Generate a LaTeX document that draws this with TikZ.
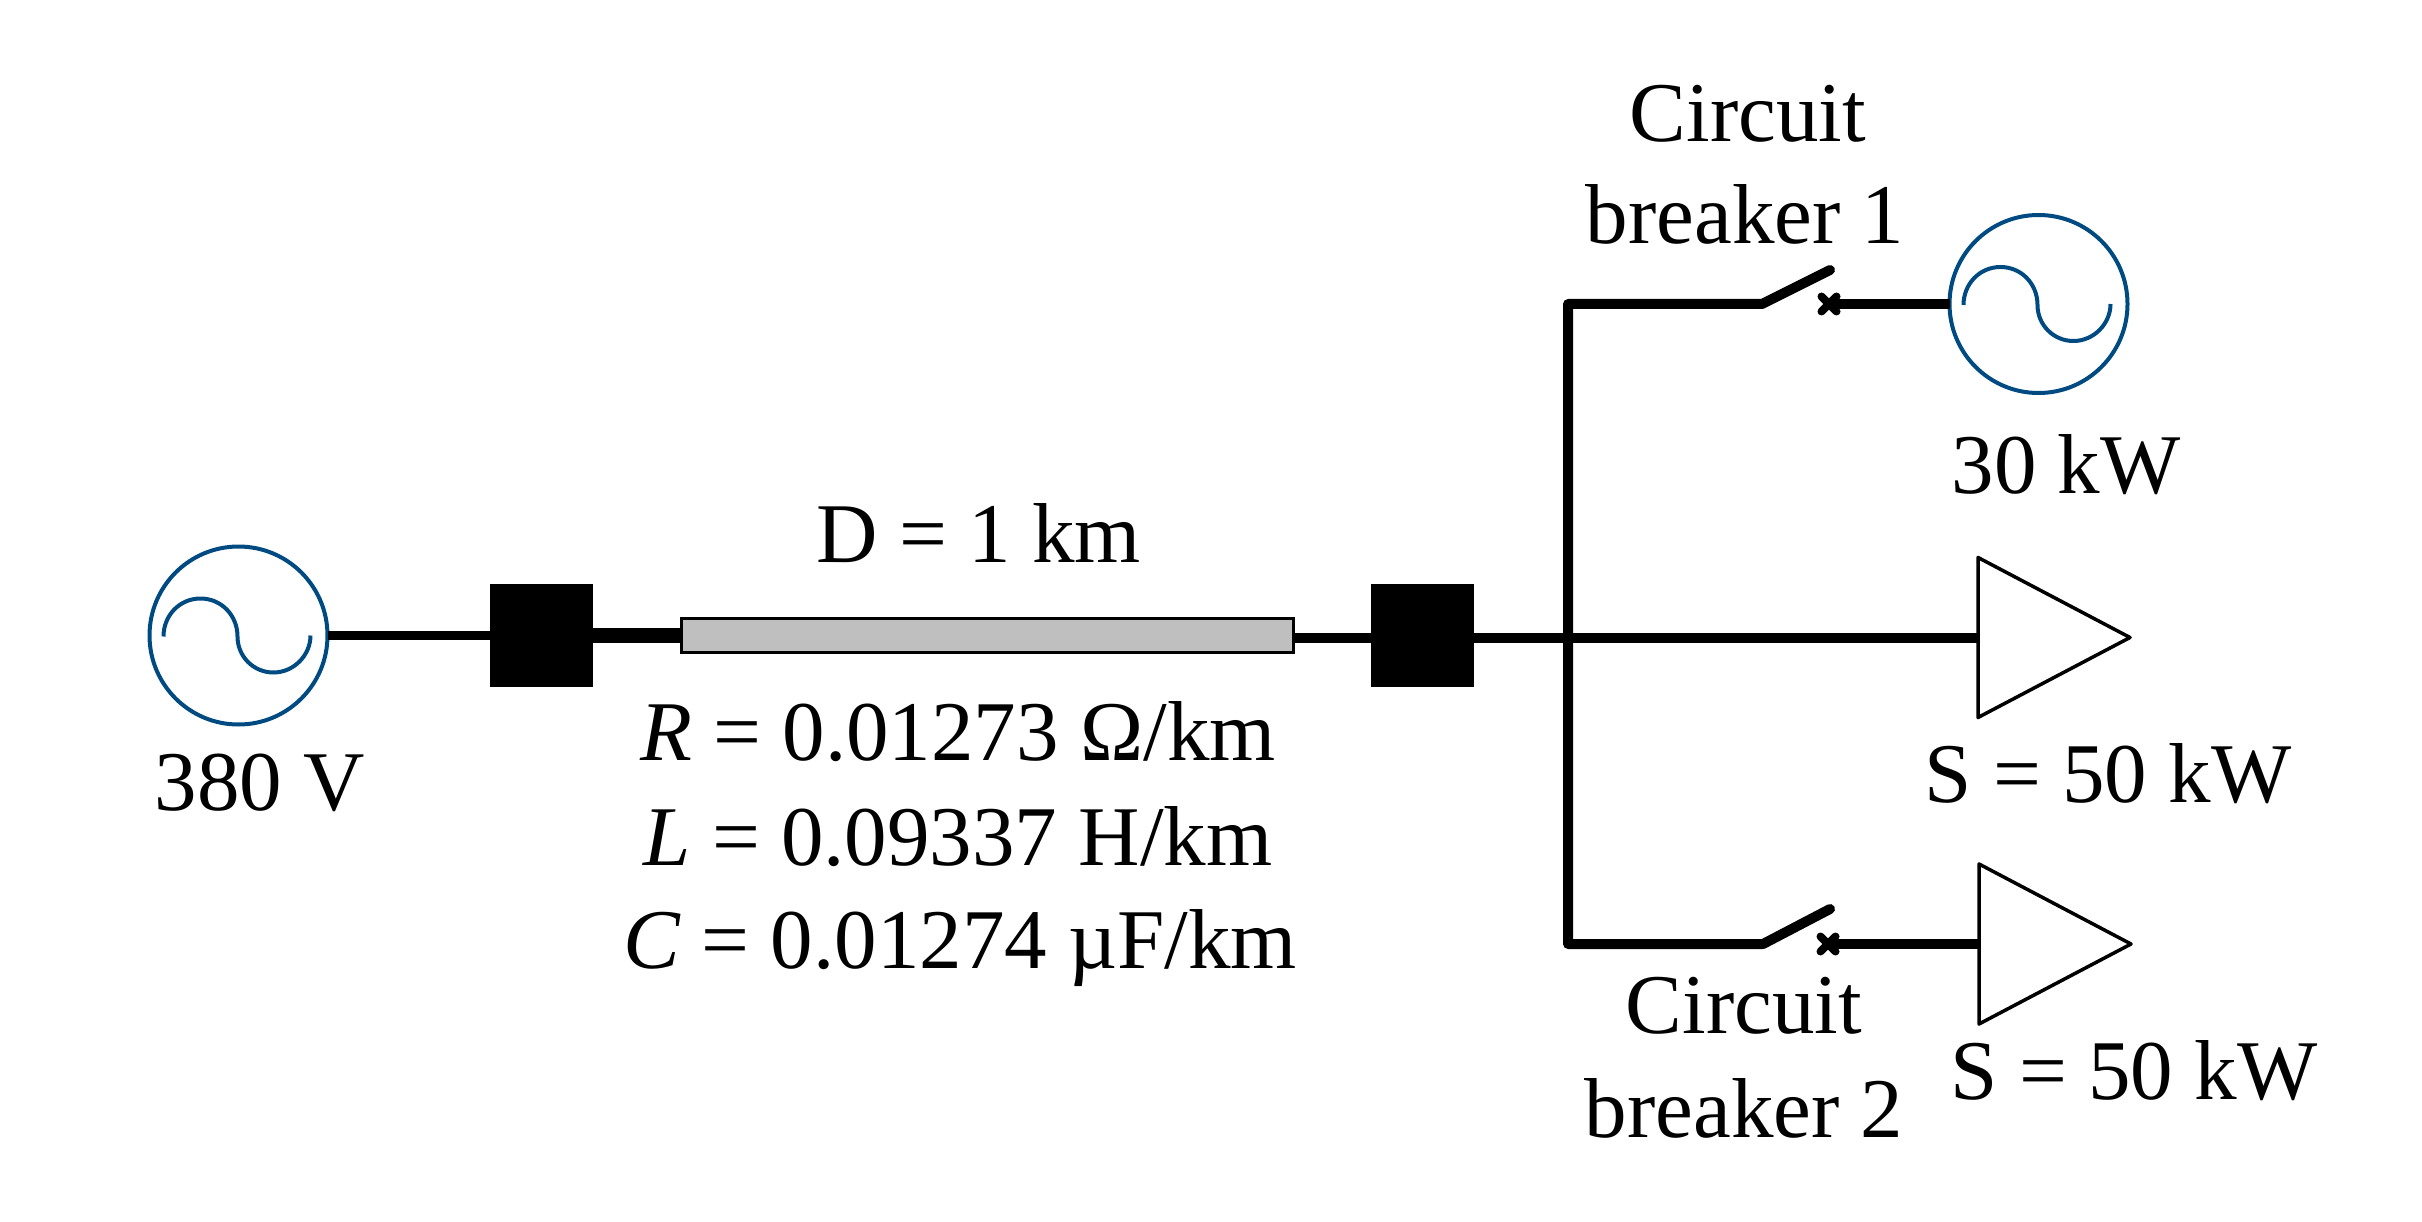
\documentclass[tikz,border=0pt]{standalone}
\usepackage{fontspec}
\setmainfont{Liberation Serif}
\usetikzlibrary{shapes.geometric,shapes.misc}
\definecolor{srcblue}{HTML}{004A82}
\tikzset{
  x=1pt,y=-1pt,
  lbl/.style={inner sep=0pt,outer sep=0pt,anchor=base,font=\fontsize{85}{85}\selectfont},
  source/.style={circle,draw=srcblue,line width=4pt,minimum size=178pt,inner sep=0pt,outer sep=0pt},
  wave/.style={draw=srcblue,line width=4pt},
  term/.style={rectangle,fill=black,minimum width=103pt,minimum height=103pt,inner sep=0pt,outer sep=0pt},
  cablebox/.style={rectangle,draw=black,fill=black!25,line width=3pt,minimum width=612pt,minimum height=34pt,inner sep=0pt,outer sep=0pt},
  loadtri/.style={isosceles triangle,isosceles triangle stretches,shape border rotate=0,draw=black,line width=3.5pt,fill=white,
     minimum width=160pt,minimum height=152pt,inner sep=0pt,outer sep=0pt,line join=round},
  wire/.style={draw=black,line width=9.5pt},
  fatwire/.style={draw=black,line width=15pt},
  busline/.style={draw=black,line width=10pt,line cap=round,line join=round},
  crossm/.style={cross out,draw=black,line width=8pt,line cap=round,minimum size=15pt,inner sep=0pt,outer sep=0pt},
}
\newcommand{\sinewave}[1]{%
  \draw[wave] ([shift={(-75,1)}]#1.center)
    .. controls ([shift={(-75,-20)}]#1.center) and ([shift={(-59,-37)}]#1.center) .. ([shift={(-38,-37)}]#1.center)
    .. controls ([shift={(-17,-37)}]#1.center) and ([shift={(-1,-20)}]#1.center) .. ([shift={(-1,1)}]#1.center)
    .. controls ([shift={(-1,21)}]#1.center) and ([shift={(15,37)}]#1.center) .. ([shift={(35,37)}]#1.center)
    .. controls ([shift={(55,37)}]#1.center) and ([shift={(72,20)}]#1.center) .. ([shift={(72,0)}]#1.center);%
}
\begin{document}
\begin{tikzpicture}
\useasboundingbox (0,0) rectangle (2422,1222);
% coordinates
\coordinate (bus) at (1568,638);
\coordinate (ctop) at (1568,304);
\coordinate (cbot) at (1568,944);
\coordinate (cb1a) at (1762,304);
\coordinate (cb1b) at (1830,270);
\coordinate (cb2a) at (1763,944);
\coordinate (cb2b) at (1830,909);
% nodes
\node[source] (src) at (238.5,635.5) {};
\node[term] (sq1) at (541.5,635.5) {};
\node[term] (sq2) at (1422,635.5) {};
\node[source] (gen) at (2038.5,304) {};
\node[crossm] (x1) at (1829,304) {};
\node[crossm] (x2) at (1828,944) {};
% wires
\draw[wire] (src.east) -- (sq1.west);
\draw[fatwire] (sq1.east) -- (680,635.5) coordinate (cabL);
\draw[wire] (1294,638) coordinate (cabR) -- (bus);
\draw[wire] (bus) -- (1978,638);
\draw[wire] (x1.center) -- (gen.west);
\draw[wire] (x2.center) -- (1979,944);
\draw[busline] (cb1b) -- (cb1a) -- (ctop) -- (cbot) -- (cb2a) -- (cb2b);
% shapes on top
\node[cablebox] (cable) at (987,635) {};
\node[loadtri,anchor=lower side] (load1) at (1978,637.5) {};
\node[loadtri,anchor=lower side] (load2) at (1979,944) {};
\sinewave{src}
\sinewave{gen}
% labels
\node[lbl] (t380) at (260,810) {380 V};
\node[lbl] (tD) at (979,562) {D = 1 km};
\node[lbl] (tR) at (958,760) {\textit{R} = 0.01273 Ω/km};
\node[lbl] (tL) at (958,865) {\textit{L} = 0.09337 H/km};
\node[lbl] (tC) at (960,968) {\textit{C} = 0.01274 µF/km};
\node[lbl] (tc1) at (1748,142) {Circuit};
\node[lbl] (tb1) at (1745,244) {breaker 1};
\node[lbl] (t30) at (2066,493) {30 kW};
\node[lbl] (ts1) at (2108,802) {S = 50 kW};
\node[lbl] (tc2) at (1744,1033) {Circuit};
\node[lbl] (tb2) at (1744,1137) {breaker 2};
\node[lbl] (ts2) at (2134,1099) {S = 50 kW};
\end{tikzpicture}
\end{document}
